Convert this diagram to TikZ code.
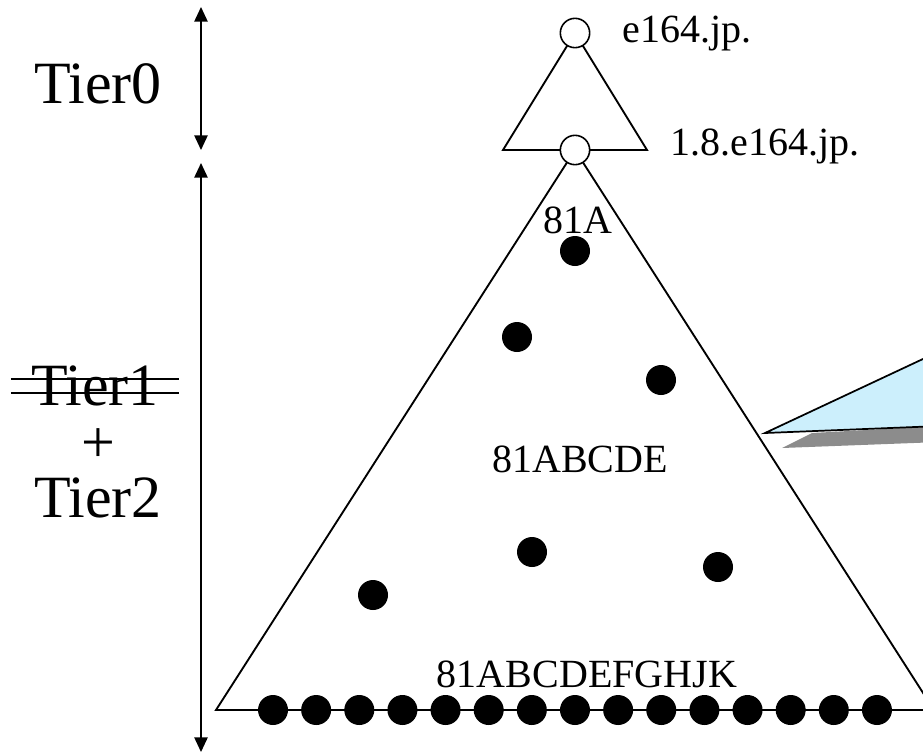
\documentclass[tikz,border=0pt]{standalone}
\usepackage{fontspec}
\setmainfont{Liberation Serif}
\usepackage{tikz}
\usetikzlibrary{arrows.meta}
\tikzset{
    blackdot/.style={circle, fill=black, inner sep=0pt, minimum size=22.5pt},
    hollow/.style={circle, draw, fill=white, line width=1.2pt, inner sep=0pt, minimum size=22pt},
    tierlabel/.style={inner sep=0pt, font=\fontsize{45}{54}\selectfont},
    zonelabel/.style={inner sep=0pt, font=\fontsize{30}{36}\selectfont},
    tierspan/.style={{Triangle[width=10pt,length=11pt]}-{Triangle[width=10pt,length=11pt]}, line width=1.2pt},
}
\begin{document}
\begin{tikzpicture}[x=0.75pt, y=-0.75pt]
        \useasboundingbox (0, 0) rectangle (923, 753);
        %corner points of both triangles
        \coordinate (top) at (575, 33);
        \coordinate (split) at (575, 150);
        \coordinate (smallleft) at (503, 150);
        \coordinate (smallright) at (647, 150);
        \coordinate (bigleft) at (216, 710);
        \coordinate (bigright) at (934, 710);
        %draw callout with its shadow
        \fill[black!45] (782, 448) -- (812, 433) -- (940, 426) -- (940, 442) -- cycle;
        \draw[line width=1.3pt, fill=cyan!20] (765, 433) -- (940, 351) -- (940, 426) -- cycle;
        %draw tier0 triangle
        \draw[line width=1.4pt] (top) -- (smallleft) -- (smallright) -- cycle;
        %draw tier1 and tier2 triangle
        \draw[line width=1.4pt] (split) -- (bigleft) -- (bigright) -- cycle;
        %draw zone nodes
        \node[hollow] (root) at (top) {};
        \node[hollow] (tld) at (split) {};
        \node[anchor=base west, zonelabel] (rootlabel) at (622, 42) {e164.jp.};
        \node[anchor=base west, zonelabel] (tldlabel) at (670, 155) {1.8.e164.jp.};
        %draw inner zones
        \node[blackdot] (dA) at (575, 251) {};
        \node[blackdot] (dB) at (517, 337) {};
        \node[blackdot] (dC) at (661, 380) {};
        \node[blackdot] (dD) at (532, 552) {};
        \node[blackdot] (dE) at (718, 567) {};
        \node[blackdot] (dF) at (373, 595) {};
        %draw leaf zones on the base
        \foreach \i in {0,...,14}
            \node[blackdot] (leaf\i) at ({273 + 43.14*\i}, 710) {};
        %label number prefixes
        \node[anchor=base, zonelabel] (pA) at (578, 233) {81A};
        \node[anchor=base, zonelabel] (pE) at (580, 472) {81ABCDE};
        \node[anchor=base, zonelabel] (pK) at (587, 687) {81ABCDEFGHJK};
        %draw tier arrows
        \coordinate (zerotop) at (201, 7);
        \coordinate (zerobottom) at (201, 150);
        \coordinate (onetop) at (201, 163);
        \coordinate (onebottom) at (201, 752);
        \draw[tierspan] (zerotop) -- (zerobottom);
        \draw[tierspan] (onetop) -- (onebottom);
        %label tiers
        \node[anchor=base, tierlabel] (tierzero) at (98, 103) {Tier0};
        \node[anchor=base, tierlabel] (tierone) at (95, 405) {Tier1};
        \node[anchor=base, tierlabel] (plus) at (98, 462) {+};
        \node[anchor=base, tierlabel] (tiertwo) at (98, 517) {Tier2};
        %strike out tier1
        \draw[line width=1pt] ([xshift=-15pt]tierone.west |- 0, 379) -- ([xshift=15pt]tierone.east |- 0, 379);
        \draw[line width=1pt] ([xshift=-15pt]tierone.west |- 0, 393) -- ([xshift=15pt]tierone.east |- 0, 393);
    \end{tikzpicture}
\end{document}
